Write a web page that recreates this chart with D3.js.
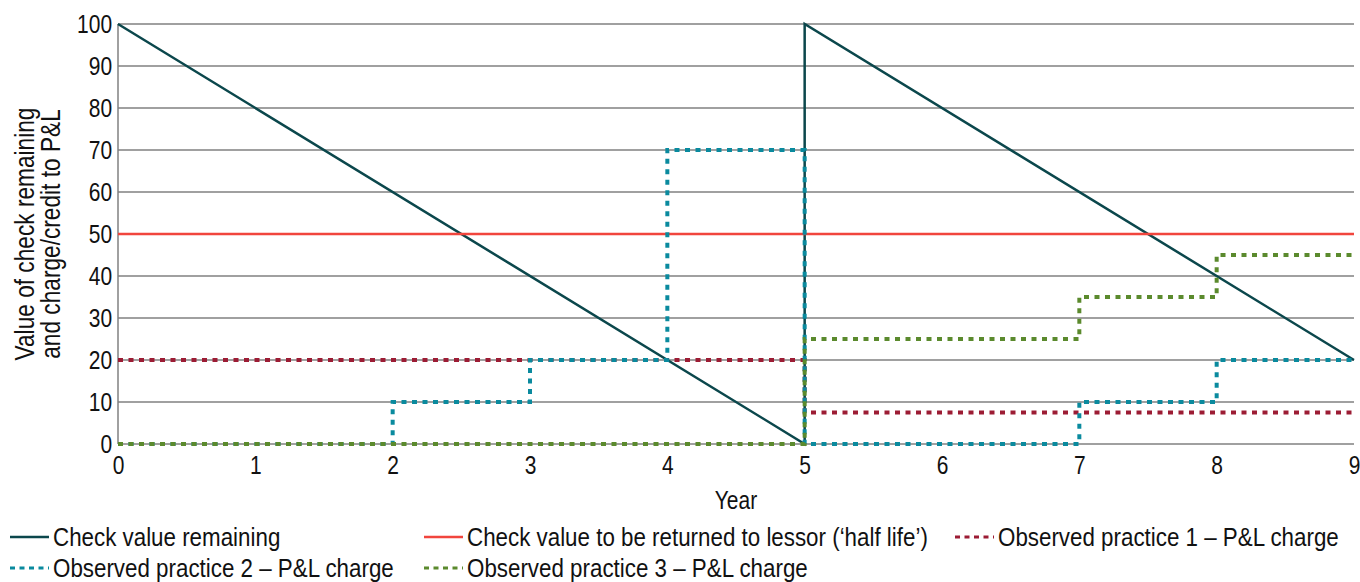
<!DOCTYPE html>
<html>
<head>
<meta charset="utf-8">
<script src="https://cdn.jsdelivr.net/npm/d3@7"></script>
<style>
  body { margin: 0; background: #fff; }
  text { font-family: "Liberation Sans", Arial, sans-serif; fill: #111; }
</style>
</head>
<body>
<svg id="chart" width="1360" height="582"></svg>
<script>
// data
var years = [0, 1, 2, 3, 4, 5, 6, 7, 8, 9];
var yTicks = [0, 10, 20, 30, 40, 50, 60, 70, 80, 90, 100];

var checkYears = [0, 5, 5, 9];
var checkValue = [100, 0, 100, 20];          // check value remaining
var halfLifeYears = [0, 9];
var halfLife = [50, 50];                      // returned to lessor
var practice1 = [20, 20, 20, 20, 20, 7.5, 7.5, 7.5, 7.5, 7.5];
var practice2 = [0, 0, 10, 20, 70, 0, 0, 10, 20, 20];
var practice3 = [0, 0, 0, 0, 0, 25, 25, 35, 45, 45];

var names = [
  "Check value remaining",
  "Check value to be returned to lessor (\u2018half life\u2019)",
  "Observed practice 1 \u2013 P&L charge",
  "Observed practice 2 \u2013 P&L charge",
  "Observed practice 3 \u2013 P&L charge"
];
var colors = ["#0b474c", "#f1453d", "#9c1c34", "#0a8a9e", "#5b8a2d"];

var svg = d3.select("#chart");
var margin = {left: 118, right: 6, top: 24, bottom: 138};
var width = 1360, height = 582;
var squeeze = "scale(0.84,1)"; // condensed look of the original face

var x = d3.scaleLinear().domain([0, 9]).range([margin.left, width - margin.right]);
var y = d3.scaleLinear().domain([0, 100]).range([height - margin.bottom, margin.top]);

// grid
svg.append("g").selectAll("line").data(yTicks).enter().append("line")
  .attr("x1", x(0)).attr("x2", x(9))
  .attr("y1", function (d) { return y(d); }).attr("y2", function (d) { return y(d); })
  .attr("stroke", "#808080").attr("stroke-width", 1.5);

svg.append("line")
  .attr("x1", x(0)).attr("x2", x(0)).attr("y1", y(0)).attr("y2", y(100))
  .attr("stroke", "#808080").attr("stroke-width", 1.5);

// axes labels (no tick marks)
var yAxis = d3.axisLeft(y).tickValues(yTicks).tickSize(0).tickPadding(7);
svg.append("g").attr("transform", "translate(" + x(0) + ",0)").call(yAxis)
  .call(function (g) { g.select(".domain").remove(); })
  .selectAll("text").style("font-size", "25px").attr("fill", "#111")
  .style("font-family", "'Liberation Sans', sans-serif")
  .attr("transform", squeeze);

var xAxis = d3.axisBottom(x).tickValues(years).tickFormat(d3.format("d")).tickSize(0).tickPadding(12);
svg.append("g").attr("transform", "translate(0," + y(0) + ")").call(xAxis)
  .call(function (g) { g.select(".domain").remove(); })
  .selectAll("text").style("font-size", "25px").attr("fill", "#111")
  .style("font-family", "'Liberation Sans', sans-serif")
  .attr("transform", squeeze);

svg.append("g").attr("transform", "translate(" + (x(0) + x(9)) / 2 + ",509) " + squeeze)
  .append("text").attr("text-anchor", "middle").style("font-size", "25px").text("Year");

var yTitle = svg.append("text")
  .attr("transform", "translate(0," + y(50) + ") rotate(-90) " + squeeze)
  .attr("text-anchor", "middle").style("font-size", "27px");
yTitle.append("tspan").attr("x", 0).attr("y", 34).text("Value of check remaining");
yTitle.append("tspan").attr("x", 0).attr("y", 60).text("and charge/credit to P&L");

// lines
var line = d3.line().x(function (d) { return x(d[0]); }).y(function (d) { return y(d[1]); });
var step = d3.line().curve(d3.curveStepAfter)
  .x(function (d) { return x(d[0]); }).y(function (d) { return y(d[1]); });

function pairs(xs, ys) { return xs.map(function (v, i) { return [v, ys[i]]; }); }

var series = [
  {path: line(pairs(checkYears, checkValue)), dash: null, w: 2.5},
  {path: line(pairs(halfLifeYears, halfLife)), dash: null, w: 2.5},
  {path: step(pairs(years, practice1)), dash: "5,5.5", w: 4},
  {path: step(pairs(years, practice2)), dash: "5,5.5", w: 4},
  {path: step(pairs(years, practice3)), dash: "5,5.5", w: 4}
];

svg.append("g").selectAll("path").data(series).enter().append("path")
  .attr("d", function (d) { return d.path; })
  .attr("fill", "none")
  .attr("stroke", function (d, i) { return colors[i]; })
  .attr("stroke-width", function (d) { return d.w; })
  .attr("stroke-dasharray", function (d) { return d.dash; });

// legend
var legendPos = [[10, 537], [424, 537], [955, 537], [10, 568], [424, 568]];
var lg = svg.append("g").selectAll("g").data(names).enter().append("g")
  .attr("transform", function (d, i) { return "translate(" + legendPos[i][0] + "," + legendPos[i][1] + ")"; });
lg.append("line").attr("x1", 0).attr("x2", 39).attr("y1", 0).attr("y2", 0)
  .attr("stroke", function (d, i) { return colors[i]; })
  .attr("stroke-width", function (d, i) { return series[i].w === 4 ? 3 : 2.5; })
  .attr("stroke-dasharray", function (d, i) { return series[i].dash ? "5,4.5" : null; });
lg.append("g").attr("transform", "translate(43,0) scale(0.86,1)")
  .append("text").attr("dy", "0.36em")
  .style("font-size", "26px").text(function (d) { return d; });
</script>
</body>
</html>
